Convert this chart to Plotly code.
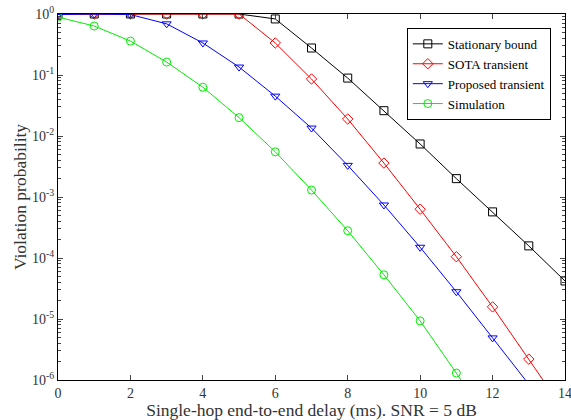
import plotly.graph_objects as go

delay = [0, 1, 2, 3, 4, 5, 6, 7, 8, 9, 10, 11, 12, 13, 14]
stationary = [1, 1, 1, 1, 1, 1, 0.83, 0.277, 0.089, 0.026, 0.0074, 0.0020, 5.7e-4, 1.58e-4, 4.2e-5]
sota = [1, 1, 1, 1, 1, 1, 0.335, 0.086, 0.019, 0.0036, 6.3e-4, 1.05e-4, 1.58e-5, 2.2e-6, 3e-7]
proposed = [0.98, 1, 0.98, 0.69, 0.335, 0.135, 0.045, 0.0135, 0.0033, 7.4e-4, 1.5e-4, 2.8e-5, 4.9e-6, 8.5e-7]
simulation = [0.89, 0.635, 0.36, 0.163, 0.063, 0.02, 0.0055, 0.0013, 2.8e-4, 5.3e-5, 9.3e-6, 1.3e-6, 1.6e-7]

series = [
    ("Stationary bound", stationary, "black", "square-open"),
    ("SOTA transient", sota, "red", "diamond-open"),
    ("Proposed transient", proposed, "blue", "triangle-down-open"),
    ("Simulation", simulation, "#00ee00", "circle-open"),
]

ytickvals = [1e-6, 1e-5, 1e-4, 1e-3, 1e-2, 1e-1, 1]
yticktext = ["10<sup>-6</sup>", "10<sup>-5</sup>", "10<sup>-4</sup>", "10<sup>-3</sup>",
             "10<sup>-2</sup>", "10<sup>-1</sup>", "10<sup>0</sup>"]
xtickvals = [0, 2, 4, 6, 8, 10, 12, 14]

FONT = "Liberation Serif, Times New Roman, serif"

fig = go.Figure()
for name, vals, color, sym in series:
    fig.add_trace(go.Scatter(
        x=delay[:len(vals)], y=vals, name=name, mode="lines+markers",
        line=dict(color=color, width=1),
        marker=dict(symbol=sym, size=8, color=color, line=dict(width=1, color=color)),
    ))

fig.update_layout(
    width=571, height=420,
    margin=dict(l=58, r=6, t=14, b=40, autoexpand=False),
    paper_bgcolor="white", plot_bgcolor="white",
    font=dict(family=FONT, size=14, color="#333333"),
    legend=dict(x=0.972, y=0.962, xanchor="right", yanchor="top",
                bordercolor="black", borderwidth=1, bgcolor="white",
                font=dict(family=FONT, size=13, color="black"), tracegroupgap=0,
                itemwidth=30),
    showlegend=True,
)
fig.update_xaxes(
    range=[0, 14], tickvals=xtickvals, ticks="inside", ticklen=5,
    showline=True, linecolor="black", linewidth=1, mirror="ticks",
    showgrid=False, zeroline=False, automargin=False, ticklabeloverflow="allow",
    tickfont=dict(family=FONT, size=14, color="#333333"),
    title=dict(text="Single-hop end-to-end delay (ms). SNR = 5 dB", standoff=3,
               font=dict(family=FONT, size=17.5, color="#333333")),
)
fig.update_yaxes(
    type="log", range=[-6, 0], tickvals=ytickvals, ticktext=yticktext,
    ticks="inside", ticklen=5,
    minor=dict(ticks="inside", ticklen=3, showgrid=False,
               tickvals=[m * 10 ** e for e in range(-6, 0) for m in range(2, 10)]),
    showline=True, linecolor="black", linewidth=1, mirror="ticks",
    showgrid=False, zeroline=False, automargin=False,
    tickfont=dict(family=FONT, size=14, color="#333333"),
    title=dict(text="Violation probability", standoff=0,
               font=dict(family=FONT, size=17.5, color="#333333")),
)

fig.write_html("out.html", config={"displayModeBar": False},
               post_script="document.body.style.margin='0';")
